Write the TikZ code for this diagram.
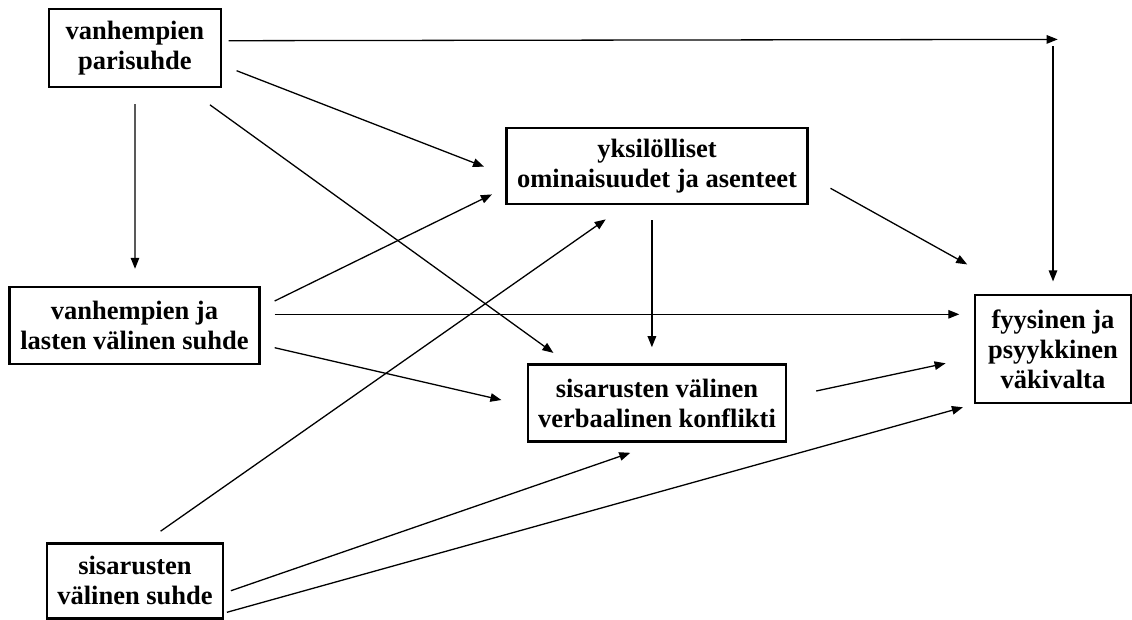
\documentclass[tikz,border=0pt]{standalone}
\usepackage{fontspec}
\setmainfont{Liberation Serif}
\usetikzlibrary{arrows.meta,calc}
\begin{document}
\begin{tikzpicture}[x=1pt,y=-1pt,
  box/.style={draw=black,line width=2.6pt,inner sep=0pt,align=center,
    font=\fontsize{26.5}{30}\selectfont\bfseries},
  conn/.style={line width=1.3pt,-{Triangle[length=11pt,width=8.5pt]}},
  plain/.style={line width=1.3pt}]
\useasboundingbox (0,0) rectangle (1132,619);
\node[box,minimum width=172pt,minimum height=78pt] (A) at (134.9,47.9) {vanhempien\\parisuhde};
\node[box,minimum width=249.5pt,minimum height=77pt] (B) at (134.5,325.3) {vanhempien ja\\lasten välinen suhde};
\node[box,minimum width=176pt,minimum height=75pt] (C) at (135,580.7) {sisarusten\\välinen suhde};
\node[box,minimum width=301.5pt,minimum height=76pt] (D) at (657,165.8) {yksilölliset\\ominaisuudet ja asenteet};
\node[box,minimum width=258pt,minimum height=77pt] (E) at (657,403) {sisarusten välinen\\verbaalinen konflikti};
\node[box,minimum width=156pt,minimum height=108pt] (F) at (1053,349) {fyysinen ja\\psyykkinen\\väkivalta};
\coordinate (K) at ($(F.north)+(4.7,-254.3)$);
% arrows
\draw[conn] ($(A.east)+(6.4,-7.2)$) -- (K);
\draw[conn] ($(F.north)+(0,-247.3)$) -- ($(F.north)+(0,-12.3)$);
\draw[conn] ($(A.east)+(14.4,22.8)$) -- ($(D.west)+(-20.9,0.9)$);
\draw[conn] ($(A.south)+(0,16)$) -- ($(B.north)+(0.5,-16.7)$);
\draw[conn] ($(A.south east)+(-12.3,16.6)$) -- ($(E.north west)+(26.7,-10.3)$);
\draw[conn] ($(B.east)+(14.1,-24.3)$) -- ($(D.south west)+(-13,-10.7)$);
\draw[conn] ($(B.east)+(14.1,-11)$) -- ($(F.west)+(-14.4,-34.7)$);
\draw[conn] ($(B.east)+(14.1,22.4)$) -- ($(E.west)+(-25.3,-3)$);
\draw[conn] ($(C.north)+(25.6,-10.7)$) -- ($(D.south)+(-51.3,14.3)$);
\draw[conn] ($(D.south)+(-5.1,15)$) -- ($(E.north)+(-5.1,-16)$);
\draw[conn] ($(D.east)+(21.5,22.5)$) -- ($(F.north west)+(-6.5,-29.3)$);
\draw[conn] ($(E.east)+(28.9,-12)$) -- ($(F.west)+(-28.1,14.3)$);
\draw[conn] ($(C.east)+(6.6,10)$) -- ($(E.south)+(-26.7,10)$);
\draw[conn] ($(C.east)+(2.6,31.6)$) -- ($(F.south west)+(-10.8,3)$);
\end{tikzpicture}
\end{document}
